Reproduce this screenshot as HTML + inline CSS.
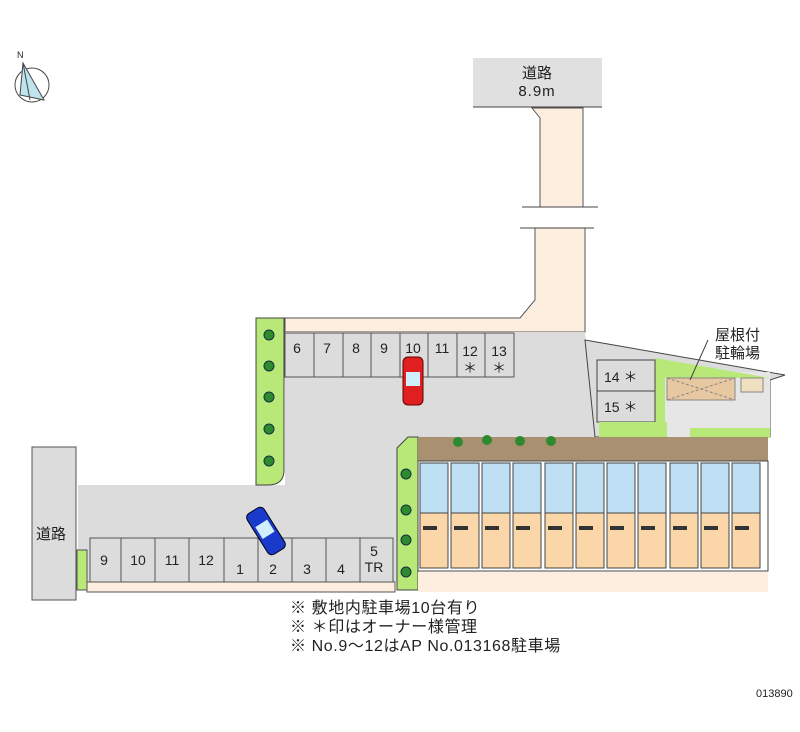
<!DOCTYPE html>
<html><head><meta charset="utf-8"><style>
html,body{margin:0;padding:0;background:#fff}
svg text{font-family:"Liberation Sans","Noto Sans CJK JP",sans-serif;fill:#222}
</style></head><body>
<svg width="800" height="727" viewBox="0 0 800 727" xmlns="http://www.w3.org/2000/svg">
<!-- compass -->
<g stroke="#444" fill="none" stroke-width="1">
<circle cx="32" cy="85" r="17"/>
<path d="M23 63 L20 95 L44 100 Z" fill="#bfe4ee"/>
<line x1="23" y1="63" x2="30" y2="100"/>
</g>
<text x="17" y="58" font-size="9">N</text>
<!-- top road -->
<rect x="473" y="58" width="129" height="49" fill="#e0e0e0"/>
<line x1="473" y1="107" x2="602" y2="107" stroke="#444"/>
<text x="537" y="78" font-size="15" text-anchor="middle">道路</text>
<text x="537" y="96" font-size="15" text-anchor="middle" letter-spacing="1">8.9m</text>
<path d="M532 108 L540 118 L540 207 L583 207 L583 108 Z" fill="#fdeee0" stroke="#555"/>
<path d="M535 228 L535 300 L520 318 L285 318 L285 332 L585 332 L585 228 Z" fill="#fdeee0" stroke="#555"/>
<line x1="522" y1="207" x2="598" y2="207" stroke="#444"/>
<line x1="520" y1="228" x2="594" y2="228" stroke="#444"/>
<!-- main grey lot -->
<path d="M285 332 L585 332 L595 437 L420 437 L410 450 L410 485 L410 582 L78 582 L78 485 L285 485 Z" fill="#dcdcdc"/>
<!-- right top triangle area -->
<path d="M585 340 L785 375 L770 380 L770 437 L595 437 Z" fill="#dcdcdc" stroke="#444"/>
<rect x="665" y="372" width="105" height="65" fill="#e6e6e6"/>
<path d="M655 358 L770 378 L665 378 L665 425 L655 425 Z" fill="#b8e878"/>
<rect x="597" y="360" width="58" height="31" fill="#dcdcdc" stroke="#444"/>
<rect x="597" y="391" width="58" height="31" fill="#dcdcdc" stroke="#444"/>
<text x="604" y="382" font-size="14">14 ＊</text>
<text x="604" y="412" font-size="14">15 ＊</text>
<rect x="599" y="422" width="68" height="15" fill="#b8e878"/>
<rect x="667" y="378" width="68" height="22" fill="#e8c8a0" stroke="#888"/>
<path d="M667 378 L735 400 M667 400 L735 378" stroke="#888" stroke-dasharray="3,2"/>
<rect x="741" y="378" width="22" height="14" fill="#f0e0c0" stroke="#888"/>
<rect x="690" y="428" width="80" height="10" fill="#b8e878"/>
<text x="715" y="340" font-size="15">屋根付</text>
<text x="715" y="358" font-size="15">駐輪場</text>
<line x1="708" y1="340" x2="690" y2="380" stroke="#444"/>
<!-- left green strip -->
<path d="M256 318 L284 318 L284 470 Q284 485 268 485 L256 485 Z" fill="#b8e878" stroke="#444"/>
<g fill="#2f8a2f" stroke="#134"><circle cx="269" cy="335" r="5"/><circle cx="269" cy="366" r="5"/><circle cx="269" cy="397" r="5"/><circle cx="269" cy="429" r="5"/><circle cx="269" cy="461" r="5"/></g>
<!-- top parking row -->
<g fill="#dcdcdc" stroke="#555">
<rect x="285" y="333" width="29" height="44"/><rect x="314" y="333" width="29" height="44"/><rect x="343" y="333" width="28" height="44"/><rect x="371" y="333" width="29" height="44"/><rect x="400" y="333" width="28" height="44"/><rect x="428" y="333" width="29" height="44"/><rect x="457" y="333" width="28" height="44"/><rect x="485" y="333" width="29" height="44"/>
</g>
<g font-size="14" text-anchor="middle">
<text x="297" y="353">6</text><text x="327" y="353">7</text><text x="356" y="353">8</text><text x="384" y="353">9</text><text x="413" y="353">10</text><text x="442" y="353">11</text><text x="470" y="356">12</text><text x="470" y="373">＊</text><text x="499" y="356">13</text><text x="499" y="373">＊</text>
</g>
<!-- red car -->
<rect x="403" y="357" width="20" height="48" rx="5" fill="#e02020" stroke="#600"/>
<rect x="406" y="372" width="14" height="14" fill="#cfefff"/>
<!-- left road -->
<rect x="32" y="447" width="44" height="153" fill="#dcdcdc" stroke="#555"/>
<text x="36" y="539" font-size="15">道路</text>
<rect x="77" y="550" width="10" height="40" fill="#b8e878" stroke="#555"/>
<!-- bottom parking row -->
<rect x="87" y="582" width="308" height="10" fill="#fdeee0" stroke="#555"/>
<g fill="#dcdcdc" stroke="#555">
<rect x="90" y="538" width="31" height="44"/><rect x="121" y="538" width="34" height="44"/><rect x="155" y="538" width="34" height="44"/><rect x="189" y="538" width="35" height="44"/><rect x="224" y="538" width="34" height="44"/><rect x="258" y="538" width="34" height="44"/><rect x="292" y="538" width="34" height="44"/><rect x="326" y="538" width="34" height="44"/><rect x="360" y="538" width="33" height="44"/>
</g>
<g font-size="14" text-anchor="middle">
<text x="104" y="565">9</text><text x="138" y="565">10</text><text x="172" y="565">11</text><text x="206" y="565">12</text><text x="240" y="574">1</text><text x="273" y="574">2</text><text x="307" y="574">3</text><text x="341" y="574">4</text><text x="374" y="556">5</text><text x="374" y="572">TR</text>
</g>
<!-- blue car -->
<g transform="rotate(-32 266 531)"><rect x="256" y="507" width="20" height="48" rx="5" fill="#1a3acc" stroke="#001"/><rect x="259" y="522" width="14" height="14" fill="#cfefff"/></g>
<!-- building green strip -->
<path d="M397 448 L408 437 L418 437 L418 590 L397 590 Z" fill="#b8e878" stroke="#444"/>
<g fill="#2f8a2f" stroke="#134"><circle cx="406" cy="474" r="5"/><circle cx="406" cy="510" r="5"/><circle cx="406" cy="540" r="5"/><circle cx="406" cy="572" r="5"/></g>
<!-- building -->
<rect x="418" y="437" width="350" height="24" fill="#a89070"/>
<g fill="#2f8a2f"><circle cx="458" cy="442" r="5"/><circle cx="487" cy="440" r="5"/><circle cx="520" cy="441" r="5"/><circle cx="551" cy="441" r="5"/></g>
<rect x="418" y="461" width="350" height="110" fill="#fff" stroke="#444"/>
<g id="u">
<rect x="420" y="463" width="28" height="50" fill="#bfe0f4" stroke="#444"/>
<rect x="420" y="513" width="28" height="55" fill="#fad6a8" stroke="#444"/>
<rect x="423" y="526" width="14" height="4" fill="#333"/>
</g>
<use href="#u" x="31"/><use href="#u" x="62"/><use href="#u" x="93"/><use href="#u" x="125"/><use href="#u" x="156"/><use href="#u" x="187"/><use href="#u" x="218"/><use href="#u" x="250"/><use href="#u" x="281"/><use href="#u" x="312"/>
<rect x="418" y="572" width="350" height="20" fill="#fdeee0"/>
<!-- notes -->
<g font-size="16" letter-spacing="0.6">
<text x="290" y="613">※ 敷地内駐車場10台有り</text>
<text x="290" y="632">※ ＊印はオーナー様管理</text>
<text x="290" y="651">※ No.9～12はAP No.013168駐車場</text>
</g>
<text x="756" y="697" font-size="11" fill="#555">013890</text>
</svg>
</body></html>
